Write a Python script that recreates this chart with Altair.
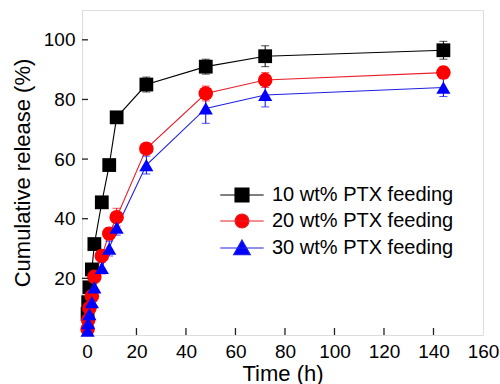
import altair as alt
import pandas as pd

times = [0.25, 0.5, 1, 2, 3, 6, 9, 12, 24, 48, 72, 144]
series_names = ["10 wt% PTX feeding", "20 wt% PTX feeding", "30 wt% PTX feeding"]
black_vals = [8, 12, 17, 23, 31.5, 45.5, 58, 74, 85, 91, 94.5, 96.5]
black_err = [0.5, 0.5, 0.5, 1, 1, 1.5, 1, 1.5, 2.5, 2.5, 3.5, 3]
red_vals = [3, 6, 10, 14, 20.5, 27.5, 35, 40.5, 63.5, 82, 86.5, 89]
red_err = [0.5, 0.5, 1, 1, 1.5, 2, 2, 3, 1, 2.5, 2.5, 2]
blue_vals = [2.5, 5, 8, 12, 17, 23.5, 30, 37, 58, 77, 81.5, 84]
blue_err = [0.5, 0.5, 1, 1, 1.5, 2, 2.5, 2.5, 3, 5, 4, 3]

colors = ["#000000", "#ff0000", "#0000ff"]
line_colors = ["#000000", "#e8202a", "#2020e0"]
shapes = ["square", "circle", "triangle-up"]
legend_paths = [
    "M-3.1,0H3.1M-1,-1H1V1H-1Z",
    "M-3.1,0H3.1M1,0A1,1,0,1,1,-1,0A1,1,0,1,1,1,0Z",
    "M-3.1,0H3.1M0,-1.15L1.2,0.95H-1.2Z",
]
xlabel_vals = [0, 20, 40, 60, 80, 100, 120, 140, 160]
xtick_vals = [20, 40, 60, 80, 100, 120, 140]
ytick_vals = [20, 40, 60, 80, 100]

rows = []
for name, vals, errs in zip(series_names, [black_vals, red_vals, blue_vals], [black_err, red_err, blue_err]):
    for t, v, e in zip(times, vals, errs):
        rows.append({"series": name, "time": t, "value": v, "lo": v - e, "hi": v + e})
df = pd.DataFrame(rows)

W, H = 401, 325
xscale = alt.Scale(domain=[-2, 160], nice=False, zero=False)
yscale = alt.Scale(domain=[1, 110], nice=False, zero=False)

FONT = "Liberation Sans"

xaxis = alt.Axis(values=xlabel_vals, title="Time (h)", titlePadding=2,
                 titleFontWeight="normal", labelFontWeight="normal")
yaxis = alt.Axis(values=ytick_vals, title="Cumulative release (%)", titlePadding=9,
                 titleFontWeight="normal", labelFontWeight="normal")

layers = []
base = alt.Chart(df)
for i, name in enumerate(series_names):
    sub = base.transform_filter(alt.datum.series == name)
    layers.append(sub.mark_line(color=line_colors[i], strokeWidth=1.1).encode(
        x=alt.X("time:Q", scale=xscale, axis=xaxis),
        y=alt.Y("value:Q", scale=yscale, axis=yaxis)))

for i, name in enumerate(series_names):
    sub = base.transform_filter(alt.datum.series == name)
    layers.append(sub.mark_rule(color=colors[i], strokeWidth=1).encode(
        x=alt.X("time:Q", scale=xscale, axis=xaxis), y=alt.Y("lo:Q", scale=yscale, axis=yaxis), y2="hi:Q"))
    layers.append(sub.mark_tick(color=colors[i], orient="horizontal", size=8, thickness=1).encode(
        x=alt.X("time:Q", scale=xscale, axis=xaxis), y=alt.Y("lo:Q", scale=yscale, axis=yaxis)))
    layers.append(sub.mark_tick(color=colors[i], orient="horizontal", size=8, thickness=1).encode(
        x=alt.X("time:Q", scale=xscale, axis=xaxis), y=alt.Y("hi:Q", scale=yscale, axis=yaxis)))

sizes = [190, 210, 200]
for i, name in enumerate(series_names):
    sub = base.transform_filter(alt.datum.series == name)
    layers.append(sub.mark_point(shape=shapes[i], filled=True, color=colors[i], size=sizes[i], opacity=1).encode(
        x=alt.X("time:Q", scale=xscale, axis=xaxis), y=alt.Y("value:Q", scale=yscale, axis=yaxis)))

# legend layer
leg = alt.Legend(title=None, orient="none", legendX=150, legendY=175, padding=0,
                 labelFontSize=20, labelFont=FONT, labelColor="black", labelOffset=20, labelLimit=0,
                 symbolSize=196, symbolStrokeWidth=1.1, symbolOpacity=1, rowPadding=6)
layers.append(base.mark_point(filled=True, opacity=0).encode(
    x=alt.X("time:Q", scale=xscale, axis=xaxis), y=alt.Y("value:Q", scale=yscale, axis=yaxis),
    shape=alt.Shape("series:N", scale=alt.Scale(domain=series_names, range=legend_paths), legend=leg),
    fill=alt.Fill("series:N", scale=alt.Scale(domain=series_names, range=colors), legend=leg),
    stroke=alt.Stroke("series:N", scale=alt.Scale(domain=series_names, range=line_colors), legend=leg),
))

# inward ticks
xt = pd.DataFrame({"v": xtick_vals})
yt = pd.DataFrame({"v": ytick_vals})
layers.append(alt.Chart(xt).mark_rule(color="#222", strokeWidth=1.3).encode(
    x=alt.X("v:Q", scale=xscale, axis=xaxis), y=alt.value(H), y2=alt.value(H - 7)))
layers.append(alt.Chart(yt).mark_rule(color="#222", strokeWidth=1.3).encode(
    y=alt.Y("v:Q", scale=yscale, axis=yaxis), x=alt.value(0), x2=alt.value(6)))

chart = alt.layer(*layers).properties(
    width=W, height=H,
    autosize=alt.AutoSizeParams(type="none"),
    padding={"left": 82, "top": 10, "right": 17, "bottom": 49},
).configure_view(stroke="#222", strokeWidth=1.5).configure(background="white").configure_axis(
    ticks=False, domain=False, grid=False, labelFontSize=19, titleFontSize=22, labelPadding=7,
    labelColor="black", titleColor="black", titleFontWeight="normal", labelFont=FONT, titleFont=FONT,
    labelFlush=False, labelOverlap=False,
)

chart.save("out.html", embed_options={"renderer": "svg", "actions": False})
